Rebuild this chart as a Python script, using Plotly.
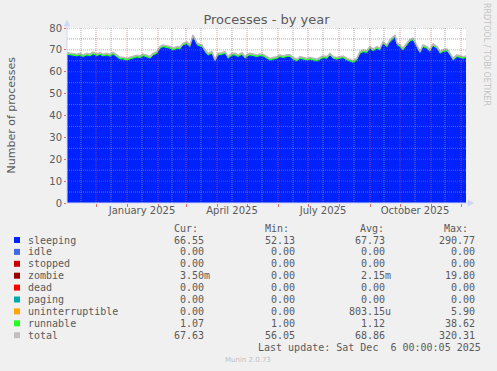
import plotly.graph_objects as go

# ---------------- data ----------------
dates = [
    "2024-11-02", "2024-11-07", "2024-11-12", "2024-11-15", "2024-11-18", "2024-11-22", "2024-11-25", "2024-11-28",
    "2024-12-02", "2024-12-05", "2024-12-08", "2024-12-12", "2024-12-15", "2024-12-18", "2024-12-22", "2024-12-25",
    "2024-12-28", "2025-01-01", "2025-01-04", "2025-01-07", "2025-01-11", "2025-01-14", "2025-01-17", "2025-01-21",
    "2025-01-24", "2025-01-27", "2025-01-31", "2025-02-03", "2025-02-06", "2025-02-10", "2025-02-13", "2025-02-16",
    "2025-02-20", "2025-02-23", "2025-02-26", "2025-03-02", "2025-03-05", "2025-03-08", "2025-03-12", "2025-03-17",
    "2025-03-20", "2025-03-23", "2025-03-27", "2025-03-30", "2025-04-02", "2025-04-06", "2025-04-09", "2025-04-12",
    "2025-04-16", "2025-04-19", "2025-04-22", "2025-04-26", "2025-04-29", "2025-05-02", "2025-05-04", "2025-05-07",
    "2025-05-11", "2025-05-14", "2025-05-17", "2025-05-21", "2025-05-24", "2025-05-27", "2025-05-31", "2025-06-03",
    "2025-06-06", "2025-06-10", "2025-06-13", "2025-06-16", "2025-06-20", "2025-06-23", "2025-06-26", "2025-06-30",
    "2025-07-03", "2025-07-06", "2025-07-10", "2025-07-13", "2025-07-16", "2025-07-20", "2025-07-23", "2025-07-26",
    "2025-07-30", "2025-08-02", "2025-08-05", "2025-08-09", "2025-08-12", "2025-08-15", "2025-08-19", "2025-08-22",
    "2025-08-25", "2025-08-29", "2025-09-01", "2025-09-04", "2025-09-08", "2025-09-11", "2025-09-14", "2025-09-18",
    "2025-09-21", "2025-09-24", "2025-09-26", "2025-09-28", "2025-10-01", "2025-10-04", "2025-10-08", "2025-10-11",
    "2025-10-14", "2025-10-18", "2025-10-21", "2025-10-24", "2025-10-28", "2025-10-31", "2025-11-03", "2025-11-07",
    "2025-11-10", "2025-11-13", "2025-11-17", "2025-11-20", "2025-11-23", "2025-11-27", "2025-11-30", "2025-12-03",
    "2025-12-06",
]

total = [
    68.7, 68.4, 68.0, 68.4, 67.7, 68.4, 68.0, 68.9,
    68.1, 68.7, 68.0, 68.4, 67.8, 68.9, 67.4, 66.6,
    66.6, 66.1, 66.6, 66.9, 67.5, 67.2, 68.1, 67.5,
    66.9, 68.4, 69.2, 71.5, 72.2, 71.8, 71.5, 70.7,
    71.5, 71.2, 73.0, 73.6, 72.2, 76.8, 73.0, 72.2,
    69.9, 68.4, 69.2, 65.4, 68.4, 68.7, 69.2, 66.9,
    68.4, 68.4, 67.7, 68.7, 66.9, 68.1, 68.4, 68.1,
    67.7, 68.1, 68.0, 66.9, 66.1, 66.5, 66.9, 67.7,
    67.2, 67.7, 67.7, 66.5, 65.7, 66.9, 66.5, 66.1,
    66.5, 66.1, 65.7, 66.5, 67.2, 66.9, 68.4, 66.9,
    66.5, 66.9, 67.2, 66.1, 65.7, 65.1, 66.1, 69.2,
    69.9, 69.6, 71.5, 70.3, 71.5, 70.7, 73.7, 72.2,
    74.5, 76.0, 76.8, 73.0, 72.2, 70.7, 73.0, 74.8,
    75.3, 71.5, 69.2, 72.2, 71.5, 70.0, 72.7, 71.5,
    69.2, 70.0, 70.3, 68.4, 66.1, 67.7, 67.2, 66.9,
    67.2,
]

sleeping = [
    67.5, 67.2, 66.8, 67.2, 66.5, 67.2, 66.8, 67.7,
    66.9, 67.5, 66.8, 67.2, 66.6, 67.7, 66.2, 65.4,
    65.4, 64.9, 65.4, 65.7, 66.3, 66.0, 66.9, 66.3,
    65.7, 67.2, 68.0, 70.3, 71.0, 70.6, 70.3, 69.5,
    70.3, 70.0, 71.8, 72.4, 71.0, 75.6, 71.8, 71.0,
    68.7, 67.2, 68.0, 64.2, 67.2, 67.5, 68.0, 65.7,
    67.2, 67.2, 66.5, 67.5, 65.7, 66.9, 67.2, 66.9,
    66.5, 66.9, 66.8, 65.7, 64.9, 65.3, 65.7, 66.5,
    66.0, 66.5, 66.5, 65.3, 64.5, 65.7, 65.3, 64.9,
    65.3, 64.9, 64.5, 65.3, 66.0, 65.7, 67.2, 65.7,
    65.3, 65.7, 66.0, 64.9, 64.5, 63.9, 64.9, 68.0,
    68.7, 68.4, 70.3, 69.1, 70.3, 69.5, 72.5, 71.0,
    73.3, 74.8, 75.6, 71.8, 71.0, 69.5, 71.8, 73.6,
    74.1, 70.3, 68.0, 71.0, 70.3, 68.8, 71.5, 70.3,
    68.0, 68.8, 69.1, 67.2, 64.9, 66.5, 66.0, 65.7,
    66.0,
]

# axis / grid data
x_start, x_end = "2024-11-02", "2025-12-06"
month_starts = ["2024-12-01", "2025-01-01", "2025-02-01", "2025-03-01", "2025-04-01", "2025-05-01",
                "2025-06-01", "2025-07-01", "2025-08-01", "2025-09-01", "2025-10-01", "2025-11-01",
                "2025-12-01"]
mid_months = ["2024-11-16", "2024-12-16", "2025-01-16", "2025-02-15", "2025-03-16", "2025-04-16",
              "2025-05-16", "2025-06-16", "2025-07-16", "2025-08-16", "2025-09-15", "2025-10-16",
              "2025-11-15"]
x_label_pos = ["2025-01-16", "2025-04-16", "2025-07-16", "2025-10-16"]
x_label_text = ["January 2025", "April 2025", "July 2025", "October 2025"]
y_major = [0, 10, 20, 30, 40, 50, 60, 70, 80]
y_minor = [5, 15, 25, 35, 45, 55, 65, 75]

# legend table
names = ["sleeping", "idle", "stopped", "zombie", "dead", "paging", "uninterruptible", "runnable", "total"]
colors = ["#0022FF", "#4169E1", "#CC0000", "#990000", "#FF0000", "#00AAAA", "#FFA500", "#22FF22", "#C0C0C0"]
cur_vals = ["66.55", "0.00", "0.00", "3.50m", "0.00", "0.00", "0.00", "1.07", "67.63"]
min_vals = ["52.13", "0.00", "0.00", "0.00", "0.00", "0.00", "0.00", "1.00", "56.05"]
avg_vals = ["67.73", "0.00", "0.00", "2.15m", "0.00", "0.00", "803.15u", "1.12", "68.86"]
max_vals = ["290.77", "0.00", "0.00", "19.80", "0.00", "0.00", "5.90", "38.62", "320.31"]

# ---------------- layout geometry (pixels) ----------------
W, H = 497, 371
L, R, T, B = 67, 466, 28, 203
PW, PH = R - L, B - T


def px(x):
    return (x - L) / PW


def py(y):
    return (B - y) / PH


FONT = "DejaVu Sans"
MONO = "DejaVu Sans Mono"
TXT = "#5a5a5a"
GRID = "rgba(140,140,140,0.75)"
MGRID = "rgba(222,79,79,0.6)"
AXIS = "#CFD6F8"

fig = go.Figure()
fig.add_trace(go.Scatter(
    x=dates, y=sleeping, mode="lines", fill="tozeroy",
    line=dict(color="#0022FF", width=1), fillcolor="#0022FF",
    name="sleeping", hoverinfo="skip"))
fig.add_trace(go.Scatter(
    x=dates, y=total, mode="lines", fill="tonexty",
    line=dict(color="#B8B8B8", width=1.6), fillcolor="#22FF22",
    name="total", hoverinfo="skip"))

shapes = []
# grid drawn above data like rrdtool
for d in mid_months:
    shapes.append(dict(type="line", xref="x", yref="paper", x0=d, x1=d, y0=0, y1=1,
                       line=dict(color=GRID, width=1, dash="1px,1px"), layer="above"))
for d in month_starts:
    shapes.append(dict(type="line", xref="x", yref="paper", x0=d, x1=d, y0=0, y1=1,
                       line=dict(color=MGRID, width=1, dash="1px,1px"), layer="above"))
for v in y_minor:
    shapes.append(dict(type="line", xref="paper", yref="y", x0=0, x1=1, y0=v, y1=v,
                       line=dict(color=GRID, width=1, dash="1px,1px"), layer="above"))
for v in y_major[1:]:
    shapes.append(dict(type="line", xref="paper", yref="y", x0=0, x1=1, y0=v, y1=v,
                       line=dict(color=MGRID, width=1, dash="1px,1px"), layer="above"))

# axis lines and arrows
shapes.append(dict(type="line", xref="paper", yref="paper", x0=px(L), x1=px(L), y0=py(B), y1=py(25),
                   line=dict(color=AXIS, width=1), layer="above"))
shapes.append(dict(type="line", xref="paper", yref="paper", x0=px(L), x1=px(469), y0=py(B), y1=py(B),
                   line=dict(color=AXIS, width=1), layer="above"))
shapes.append(dict(type="path", xref="paper", yref="paper",
                   path=f"M {px(64)} {py(26)} L {px(67)} {py(20)} L {px(70)} {py(26)} Z",
                   fillcolor=AXIS, line=dict(color=AXIS, width=0.5), layer="above"))
shapes.append(dict(type="path", xref="paper", yref="paper",
                   path=f"M {px(468)} {py(200)} L {px(474)} {py(203)} L {px(468)} {py(206)} Z",
                   fillcolor=AXIS, line=dict(color=AXIS, width=0.5), layer="above"))

annotations = []
# y axis title
annotations.append(dict(text="Number of processes", xref="paper", yref="paper",
                        x=px(11), y=0.5, textangle=-90, showarrow=False,
                        font=dict(family=FONT, size=11, color=TXT),
                        xanchor="center", yanchor="middle"))
# vertical watermark
annotations.append(dict(text="RRDTOOL / TOBI OETIKER", xref="paper", yref="paper",
                        x=px(487), y=py(54), textangle=90, showarrow=False,
                        font=dict(family=FONT, size=8, color="#C4C4C4"),
                        xanchor="center", yanchor="middle"))

# legend table
row0 = 240
dy = 11.9
hdr_y = 228
col_right = [212, 302.5, 392.5, 482.5]
headers = ["Cur:", "Min:", "Avg:", "Max:"]
hdr_right = [200, 290.5, 386, 470]
for h, xr in zip(headers, hdr_right):
    annotations.append(dict(text=h, xref="paper", yref="paper", x=px(xr), y=py(hdr_y),
                            showarrow=False, xanchor="right", yanchor="middle",
                            font=dict(family=MONO, size=10, color=TXT)))


def fmt(s):
    return s if s[-1] in "mu" else s + "\u00a0"


for i, n in enumerate(names):
    yy = row0 + i * dy
    shapes.append(dict(type="rect", xref="paper", yref="paper",
                       x0=px(14), x1=px(20), y0=py(yy + 3), y1=py(yy - 3),
                       fillcolor=colors[i], line=dict(width=0)))
    annotations.append(dict(text=n, xref="paper", yref="paper", x=px(26), y=py(yy),
                            showarrow=False, xanchor="left", yanchor="middle",
                            font=dict(family=MONO, size=10, color=TXT)))
    for col, xr in zip([cur_vals, min_vals, avg_vals, max_vals], col_right):
        annotations.append(dict(text=fmt(col[i]), xref="paper", yref="paper", x=px(xr), y=py(yy),
                                showarrow=False, xanchor="right", yanchor="middle",
                                font=dict(family=MONO, size=10, color=TXT)))

annotations.append(dict(text="Last update: Sat Dec\u00a0\u00a06 00:00:05 2025", xref="paper", yref="paper",
                        x=px(483), y=py(347.5), showarrow=False, xanchor="right", yanchor="middle",
                        font=dict(family=MONO, size=10, color=TXT)))
annotations.append(dict(text="Munin 2.0.73", xref="paper", yref="paper",
                        x=px(248), y=py(360), showarrow=False, xanchor="center", yanchor="middle",
                        font=dict(family=FONT, size=7, color="#C0C0C0")))

fig.update_layout(
    width=W, height=H, autosize=False,
    margin=dict(l=L, r=W - R, t=T, b=H - B, pad=0),
    paper_bgcolor="#F0F0F0", plot_bgcolor="#FFFFFF",
    showlegend=False,
    title=dict(text="Processes - by year", x=0.5, xanchor="center", xref="paper",
               y=1 - 19 / H, yanchor="middle",
               font=dict(family=FONT, size=13, color=TXT)),
    xaxis=dict(type="date", range=[x_start, x_end], showgrid=False, zeroline=False,
               showline=False, tickvals=x_label_pos, ticktext=x_label_text, ticks="",
               tickfont=dict(family=FONT, size=10, color=TXT),
               minor=dict(tickvals=month_starts, ticks="outside", ticklen=3,
                          tickcolor="rgba(222,79,79,0.8)", showgrid=False)),
    yaxis=dict(range=[0, 80], tickvals=y_major, showgrid=False, zeroline=False,
               showline=False, ticks="outside", ticklen=2, tickcolor="rgba(222,79,79,0.8)",
               tickfont=dict(family=FONT, size=10, color=TXT)),
    shapes=shapes,
    annotations=annotations,
)

fig.write_html(
    "out.html",
    config={"displayModeBar": False, "staticPlot": True},
    post_script="document.body.style.margin='0';document.body.style.overflow='hidden';",
)
